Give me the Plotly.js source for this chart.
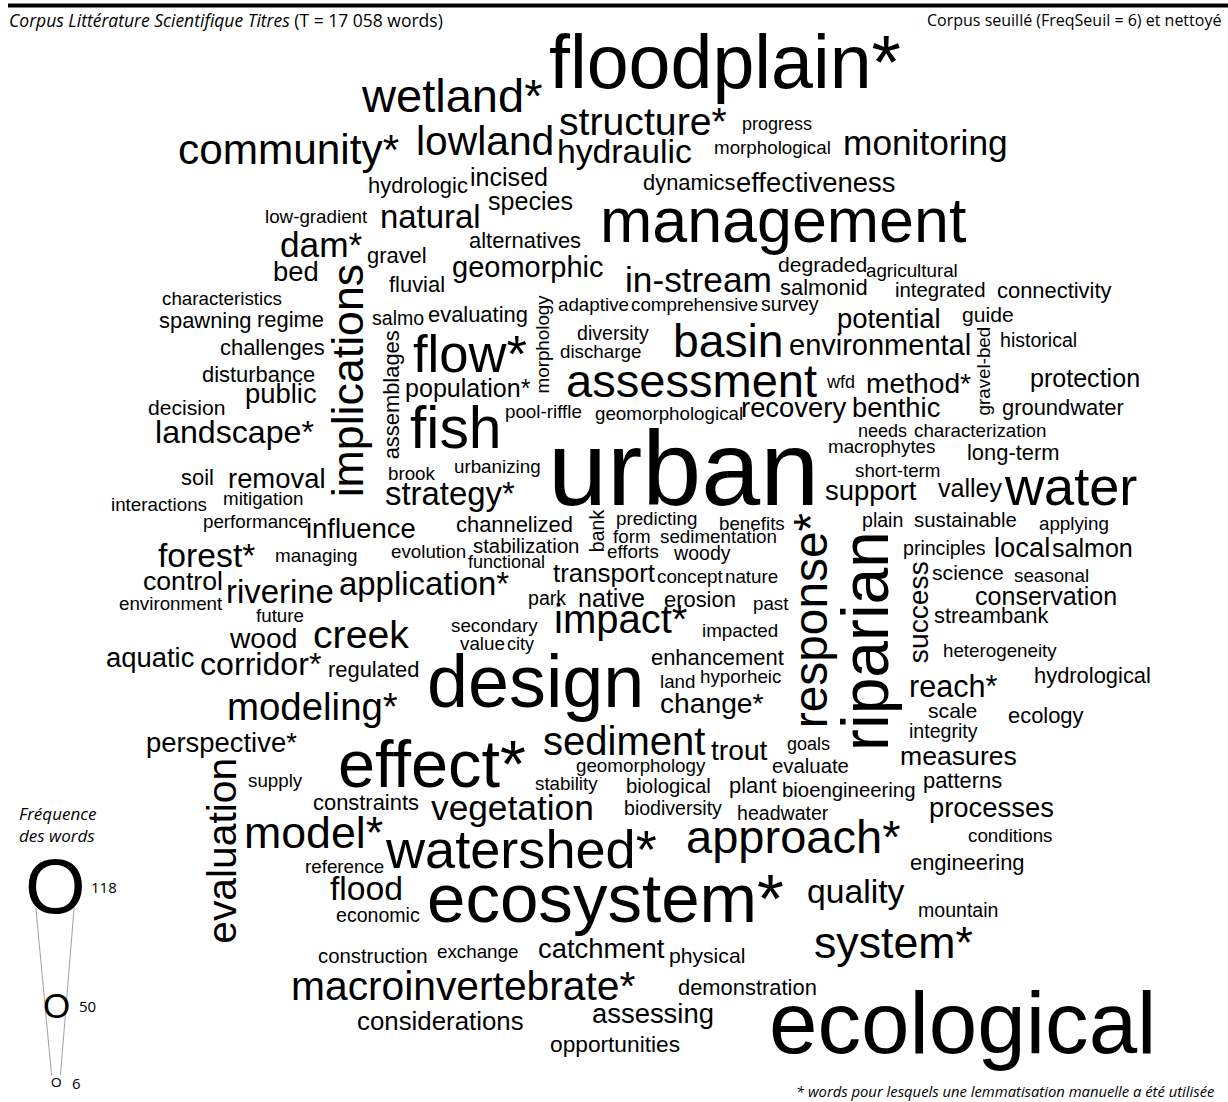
<!DOCTYPE html>
<html><head><meta charset="utf-8">
<script src="https://cdn.plot.ly/plotly-3.0.1.min.js"></script>
<style>html,body{margin:0;padding:0;background:#fff}</style>
</head><body>
<div id="chart" style="width:1228px;height:1102px"></div>
<script>
// ---- data ----
const words = [
"floodplain*","wetland*","structure*","progress","morphological","monitoring","hydraulic","lowland","community*","hydrologic",
"incised","dynamics","effectiveness","species","management","low-gradient","natural","alternatives","dam*","gravel",
"bed","implications","geomorphic","in-stream","degraded","agricultural","salmonid","integrated","connectivity","fluvial",
"characteristics","spawning","regime","salmo","evaluating","morphology","adaptive","comprehensive","survey","potential",
"guide","gravel-bed","historical","diversity","discharge","basin","environmental","flow*","assemblages","population*",
"challenges","disturbance","public","decision","assessment","wfd","method*","protection","groundwater","pool-riffle",
"geomorphological","recovery","benthic","fish","landscape*","needs","characterization","macrophytes","long-term","short-term",
"urban","support","valley","water","plain","sustainable","applying","predicting","benefits","bank",
"form","sedimentation","efforts","woody","transport","concept","nature","park","native","erosion",
"past","impact*","impacted","enhancement","land","hyporheic","change*","response*","riparian","principles",
"local","salmon","success","science","seasonal","conservation","streambank","heterogeneity","hydrological","reach*",
"scale","ecology","integrity","measures","patterns","processes","conditions","engineering","mountain","ecological",
"system*","quality","approach*","ecosystem*","watershed*","vegetation","geomorphology","trout","goals","evaluate",
"stability","biological","plant","bioengineering","biodiversity","headwater","catchment","physical","exchange","construction",
"macroinvertebrate*","demonstration","considerations","assessing","opportunities","soil","removal","interactions","mitigation","brook",
"urbanizing","strategy*","performance","influence","channelized","forest*","managing","evolution","stabilization","functional",
"control","environment","riverine","application*","future","secondary","value","city","wood","creek",
"aquatic","corridor*","regulated","modeling*","design","perspective*","effect*","sediment","supply","evaluation",
"constraints","model*","reference","flood","economic"
];
const freqs = [
79,43,33,6,7,28,26,35,37,11,
15,11,18,15,63,7,25,11,28,11,
18,40,20,28,10,7,11,9,11,11,
7,11,11,8,11,7,7,7,8,18,
10,7,8,8,7,42,20,50,11,15,
11,11,18,10,43,6,19,15,11,7,
7,18,18,58,24,6,7,7,11,7,
118,18,15,52,8,9,7,7,7,8,
7,7,7,8,16,7,7,8,15,11,
7,34,7,11,7,7,19,44,67,8,
18,15,19,10,7,15,11,7,11,22,
10,11,8,17,11,18,7,11,8,94,
40,26,43,71,52,28,7,19,6,9,
7,9,11,9,8,8,18,10,7,9,
35,11,16,18,12,11,18,7,7,7,
7,25,7,18,11,26,7,7,9,6,
17,7,25,25,7,7,7,6,19,33,
18,24,11,32,77,18,68,34,7,35,
11,40,7,26,8
];
// layout position of each word in the cloud (centre along reading direction, baseline across it)
const wordX = [
725,452,643,777,772,925,624,485,288,418,
509,689,815,530,783,316,430,525,321,397,
296,363,528,698,822,912,824,940,1054,417,
222,205,290,398,478,549,593,694,790,889,
988,990,1038,613,600,728,880,470,399,468,
272,258,281,187,691,840,918,1085,1063,543,
669,793,896,456,234,882,980,881,1013,898,
683,871,970,1070,882,965,1074,656,752,604,
632,718,633,702,604,690,751,547,611,700,
771,620,740,717,677,740,712,827,888,944,
1022,1092,928,968,1051,1046,991,1000,1092,953,
952,1046,943,958,962,991,1010,967,958,962,
893,856,793,605,521,512,641,739,808,810,
566,668,753,848,673,783,601,707,477,373,
463,747,440,653,615,197,276,159,263,412,
497,450,255,361,514,206,316,428,526,506,
183,171,280,424,280,494,482,520,263,361,
150,260,373,312,535,221,432,624,275,236,
366,313,344,366,378
];
const wordY = [
88,112,135,130,154,155,163,155,164,193,
186,190,192,210,242,223,228,248,257,263,
281,380,277,292,272,277,295,297,298,292,
305,328,327,325,322,344,311,311,311,328,
322,371,347,340,358,357,355,372,395,397,
355,382,403,415,397,388,393,387,415,418,
420,417,417,448,443,437,437,453,460,477,
505,500,497,505,527,527,530,525,530,531,
543,543,558,560,582,583,583,605,607,607,
610,633,637,665,688,683,713,621,641,555,
557,557,612,580,582,605,623,657,683,697,
718,723,738,765,788,817,842,870,917,1053,
958,903,853,922,868,820,772,760,750,773,
790,793,793,797,815,820,958,963,958,963,
1000,995,1030,1023,1052,485,488,511,505,480,
473,505,528,538,532,567,562,558,553,568,
590,610,603,595,622,632,650,650,648,648,
667,675,677,720,707,752,787,755,787,851,
810,848,873,900,922
];
const verticalWords = ["implications","morphology","gravel-bed","assemblages","bank","response*","riparian","success","evaluation"];

const legendFreqs = [118, 50, 6];
const legendLabels = ["118", "50", "6"];

const titleLeftItalic = "Corpus Littérature Scientifique Titres";
const titleLeftRest = " (T = 17 058 words)";
const titleRight = "Corpus seuillé (FreqSeuil = 6) et nettoyé";
const footnote = "* words pour lesquels une lemmatisation manuelle a été utilisée";
const legendTitle = ["Fréquence", "des words"];

// ---- scales ----
const F_MIN = 6, F_MAX = 118, S_MIN = 18, S_MAX = 106;
const fontSize = f => S_MIN + (f - F_MIN) * (S_MAX - S_MIN) / (F_MAX - F_MIN);
const legendSize = f => 10.95 + 0.4168 * f + 0.001283 * f * f;
const MID = 0.35;
const WORD_FONT = "Liberation Sans, Arial, sans-serif";
const SIDE_FONT = "Open Sans, Noto Sans, sans-serif";

const annotations = words.map((w, i) => {
  const s = fontSize(freqs[i]);
  const v = verticalWords.includes(w);
  return {
    xref: "x", yref: "y",
    x: v ? wordX[i] - MID * s : wordX[i],
    y: v ? wordY[i] : wordY[i] - MID * s,
    text: w, showarrow: false, xanchor: "center", yanchor: "middle",
    textangle: v ? -90 : 0, borderpad: 0,
    font: {family: WORD_FONT, size: s, color: "#000"}
  };
});

// header / footer
annotations.push({xref:"x", yref:"y", x:8, y:20, xanchor:"left", yanchor:"middle", showarrow:false, borderpad:0,
  text:"<i>"+titleLeftItalic+"</i>"+titleLeftRest, font:{family:SIDE_FONT, size:17.5, color:"#000"}});
annotations.push({xref:"x", yref:"y", x:1222, y:20, xanchor:"right", yanchor:"middle", showarrow:false, borderpad:0,
  text:titleRight, font:{family:SIDE_FONT, size:16, color:"#000"}});
annotations.push({xref:"x", yref:"y", x:1215, y:1091, xanchor:"right", yanchor:"middle", showarrow:false, borderpad:0,
  text:"<i>"+footnote+"</i>", font:{family:SIDE_FONT, size:14.8, color:"#000"}});
annotations.push({xref:"x", yref:"y", x:18, y:824, xanchor:"left", yanchor:"middle", align:"left", showarrow:false, borderpad:0,
  text:"<i>"+legendTitle.join("<br>")+"</i>", font:{family:SIDE_FONT, size:17, color:"#000"}});

// size legend
const legCX = 55;
const legCY = [886, 1005, 1082];
const legLabelX = [90, 78, 71];
const shapes = [{type:"line", xref:"x", yref:"y", x0:8, x1:1228, y0:5.5, y1:5.5, line:{color:"#000", width:4}}];
legendFreqs.forEach((f, i) => {
  const s = legendSize(f);
  annotations.push({xref:"x", yref:"y", x:legCX + (i ? 1 : 0), y:legCY[i], xanchor:"center", yanchor:"middle", showarrow:false, borderpad:0,
    text:"O", font:{family:WORD_FONT, size:s, color:"#000"}});
  annotations.push({xref:"x", yref:"y", x:legLabelX[i], y:legCY[i] + 1, xanchor:"left", yanchor:"middle", showarrow:false, borderpad:0,
    text:legendLabels[i], font:{family:SIDE_FONT, size:15, color:"#000"}});
});
const sBig = legendSize(legendFreqs[0]), sSmall = legendSize(legendFreqs[2]);
[-1, 1].forEach(d => {
  shapes.push({type:"line", xref:"x", yref:"y", layer:"below",
    x0: legCX + d * 0.245 * sBig, y0: legCY[0] + 0.28 * sBig,
    x1: legCX + 1 + d * 0.33 * sSmall, y1: legCY[2] - 0.5 * sSmall,
    line:{color:"#a0a0a0", width:1}});
});

const layout = {
  width: 1228, height: 1102,
  margin: {l:0, r:0, t:0, b:0, pad:0},
  paper_bgcolor: "#fff", plot_bgcolor: "#fff",
  showlegend: false,
  xaxis: {range:[0,1228], visible:false, fixedrange:true},
  yaxis: {range:[1102,0], visible:false, fixedrange:true},
  annotations: annotations,
  shapes: shapes
};
Plotly.newPlot("chart", [{type:"scatter", x:[], y:[], mode:"markers", hoverinfo:"skip"}], layout, {staticPlot:true, displayModeBar:false});
</script>
</body></html>
